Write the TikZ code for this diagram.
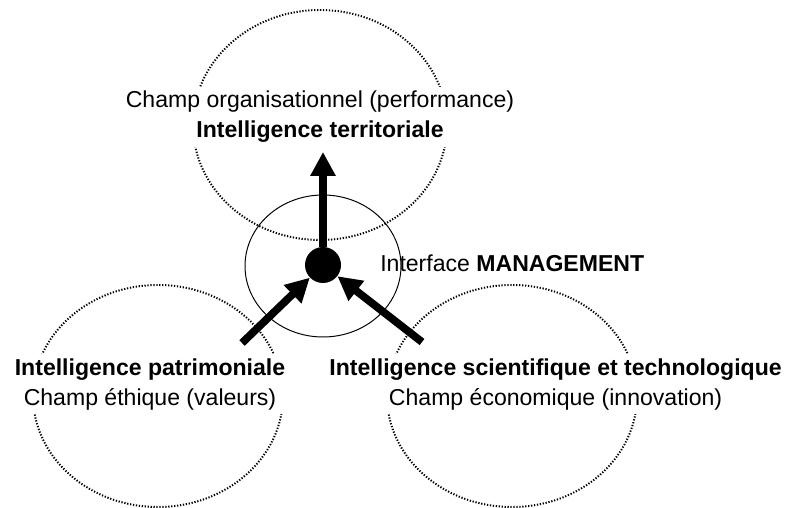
\documentclass[tikz,border=0pt]{standalone}
\usepackage{fontspec}
\setmainfont{Liberation Sans}
\usetikzlibrary{arrows.meta}
\tikzset{
  champ/.style={line width=1.4pt, dash pattern=on 0.9pt off 1.2pt},
  lbl/.style={fill=white, inner sep=3pt, align=center, font=\fontsize{16.4}{21.3}\selectfont},
  fleche/.style={line width=5.5pt, -{Triangle[length=0.6cm,width=0.6cm]}},
}
\begin{document}
\begin{tikzpicture}
\useasboundingbox (0,0) rectangle (19.65,12.7);
% les trois champs
\draw[champ] (8.0,9.575) ellipse (3.175 and 2.875);
\draw[champ] (3.95,2.8) ellipse (3.125 and 2.775);
\draw[champ] (12.8,2.8) ellipse (3.125 and 2.775);
% interface
\draw[line width=0.7pt] (8.075,6.05) ellipse (1.95 and 1.775);
\node[lbl] (orga) at (8.0,9.78) {Champ organisationnel (performance)\\ \textbf{Intelligence territoriale}};
\node[lbl] (patr) at (3.75,3.09) {\textbf{Intelligence patrimoniale}\\ Champ éthique (valeurs)};
\node[lbl] (scie) at (13.89,3.09) {\textbf{Intelligence scientifique et technologique}\\ Champ économique (innovation)};
\node[anchor=west, inner sep=0pt, font=\fontsize{16.4}{19}\selectfont] (mgmt) at (9.5,6.125) {Interface \textbf{MANAGEMENT}};
% fleches
\node[circle, fill=black, inner sep=0pt, minimum size=0.9cm] (hub) at (8.075,6.075) {};
\coordinate (haut) at (8.075,8.9);
\coordinate (gauche) at (6.05,4.125);
\coordinate (droite) at (10.55,4.15);
\draw[fleche] (hub) -- (haut);
\draw[fleche] (gauche) -- (hub);
\draw[fleche] (droite) -- (hub);
\end{tikzpicture}
\end{document}
